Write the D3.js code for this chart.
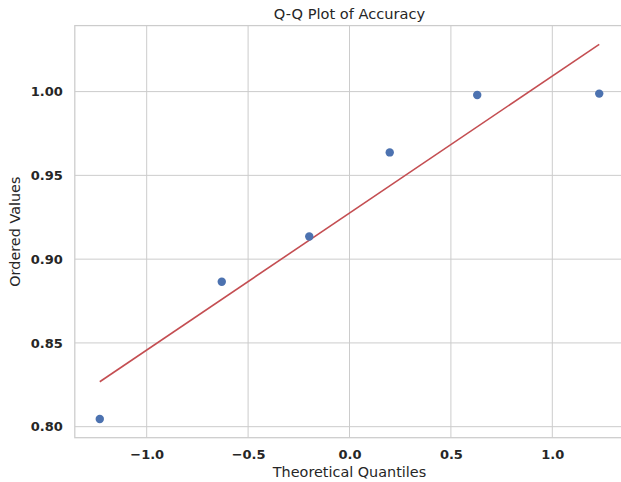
<!DOCTYPE html>
<html>
<head>
<meta charset="utf-8">
<script src="https://cdn.jsdelivr.net/npm/d3@7"></script>
<style>
  html, body { margin: 0; padding: 0; background: #fff; }
  svg { display: block; font-family: "DejaVu Sans", sans-serif; }
</style>
</head>
<body>
<svg id="chart" width="621" height="482"></svg>
<script>
// Data
const theoreticalQuantiles = [-1.2314, -0.6298, -0.1984, 0.1984, 0.6298, 1.2314];
const orderedValues = [0.8046, 0.8865, 0.9135, 0.9637, 0.9980, 0.9988];
const xTicks = [-1.0, -0.5, 0.0, 0.5, 1.0];
const yTicks = [0.80, 0.85, 0.90, 0.95, 1.00];
const titleText = "Q-Q Plot of Accuracy";
const xLabelText = "Theoretical Quantiles";
const yLabelText = "Ordered Values";

(function () {
// least-squares fit line (as in probplot)
const n = theoreticalQuantiles.length;
const mx = d3.mean(theoreticalQuantiles), my = d3.mean(orderedValues);
let sxy = 0, sxx = 0;
for (let i = 0; i < n; i++) {
  sxy += (theoreticalQuantiles[i] - mx) * (orderedValues[i] - my);
  sxx += (theoreticalQuantiles[i] - mx) ** 2;
}
const slope = sxy / sxx, intercept = my - slope * mx;
const fitLine = [theoreticalQuantiles[0], theoreticalQuantiles[n - 1]].map(q => ({ q, v: intercept + slope * q }));

// domains with 5% margins
const xExt = d3.extent(theoreticalQuantiles);
const yExt = d3.extent(orderedValues.concat(fitLine.map(d => d.v)));
const xPad = (xExt[1] - xExt[0]) * 0.05, yPad = (yExt[1] - yExt[0]) * 0.05;

const pL = 74.8, pR = 624.2, pT = 25.6, pB = 437.7;
const x = d3.scaleLinear().domain([xExt[0] - xPad, xExt[1] + xPad]).range([pL, pR]);
const y = d3.scaleLinear().domain([yExt[0] - yPad, yExt[1] + yPad]).range([pB, pT]);

const svg = d3.select("#chart");
const grid = "#cccccc";

// gridlines
svg.append("g").selectAll("line").data(xTicks).join("line")
  .attr("x1", d => x(d)).attr("x2", d => x(d)).attr("y1", pT).attr("y2", pB)
  .attr("stroke", grid).attr("stroke-width", 1);
svg.append("g").selectAll("line").data(yTicks).join("line")
  .attr("x1", pL).attr("x2", pR).attr("y1", d => y(d)).attr("y2", d => y(d))
  .attr("stroke", grid).attr("stroke-width", 1);

// spines
svg.append("rect").attr("x", pL).attr("y", pT).attr("width", pR - pL).attr("height", pB - pT)
  .attr("fill", "none").attr("stroke", grid).attr("stroke-width", 1.25);

// axes (labels only)
const xAxis = svg.append("g").attr("transform", `translate(0,${pB})`)
  .call(d3.axisBottom(x).tickValues(xTicks).tickSize(0).tickPadding(12)
    .tickFormat(d => d3.format(".1f")(d).replace("-", "\u2212")));
const yAxis = svg.append("g").attr("transform", `translate(${pL},0)`)
  .call(d3.axisLeft(y).tickValues(yTicks).tickSize(0).tickPadding(12).tickFormat(d3.format(".2f")));
[xAxis, yAxis].forEach(a => {
  a.select(".domain").remove();
  a.selectAll("text").attr("font-family", "DejaVu Sans").attr("font-size", 13)
    .attr("font-weight", "bold").attr("fill", "#262626");
});

// fit line
svg.append("path").datum(fitLine)
  .attr("d", d3.line().x(d => x(d.q)).y(d => y(d.v)))
  .attr("stroke", "#c44e52").attr("stroke-width", 1.6).attr("fill", "none");

// points
svg.append("g").selectAll("circle").data(theoreticalQuantiles).join("circle")
  .attr("cx", d => x(d)).attr("cy", (d, i) => y(orderedValues[i])).attr("r", 4.2)
  .attr("fill", "#4c72b0");

// title and labels
svg.append("text").attr("x", (pL + pR) / 2).attr("y", 19).attr("text-anchor", "middle")
  .attr("font-size", 14.6).attr("fill", "#262626").text(titleText);
svg.append("text").attr("x", (pL + pR) / 2).attr("y", 477).attr("text-anchor", "middle")
  .attr("font-size", 14.4).attr("fill", "#262626").text(xLabelText);
svg.append("text").attr("transform", `translate(20,${(pT + pB) / 2}) rotate(-90)`)
  .attr("text-anchor", "middle").attr("font-size", 14.4).attr("fill", "#262626").text(yLabelText);
})();
</script>
</body>
</html>
